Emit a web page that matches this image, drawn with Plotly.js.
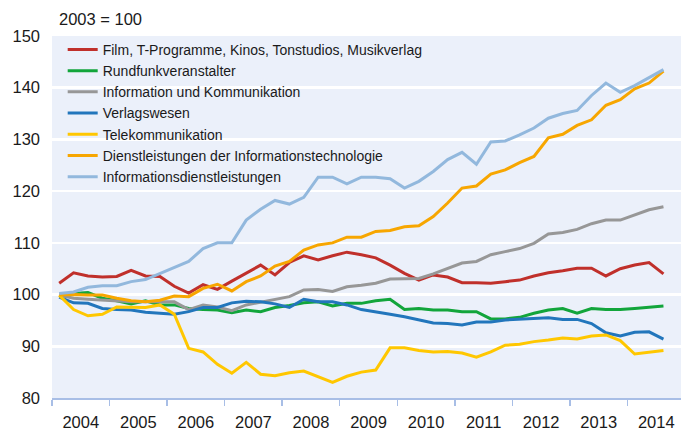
<!DOCTYPE html>
<html>
<head>
<meta charset="utf-8">
<script src="https://cdn.plot.ly/plotly-3.0.1.min.js"></script>
<style>html,body{margin:0;padding:0;background:#fff;}#chart{width:681px;height:432px;}</style>
</head>
<body>
<div id="chart"></div>
<script>
// Quarterly index values, 2004 Q1 .. 2014 Q3 (2003 = 100)
const quarters = [];
for (let y = 2004; y <= 2014; y++) for (let q = 1; q <= 4; q++) if (!(y === 2014 && q === 4)) quarters.push(y + ' Q' + q);

const yearLabels = ['2004','2005','2006','2007','2008','2009','2010','2011','2012','2013','2014'];

const seriesNames = [
  'Film, T-Programme, Kinos, Tonstudios, Musikverlag',
  'Rundfunkveranstalter',
  'Information und Kommunikation',
  'Verlagswesen',
  'Telekommunikation',
  'Dienstleistungen der Informationstechnologie',
  'Informationsdienstleistungen'
];

const film = [102.2,104.2,103.6,103.4,103.5,104.7,103.6,103.5,101.6,100.3,101.9,101.0,102.6,104.2,105.7,103.8,106.2,107.5,106.7,107.5,108.2,107.7,107.1,105.7,104.1,102.8,103.8,103.4,102.3,102.3,102.2,102.5,102.8,103.6,104.2,104.6,105.1,105.1,103.6,105.0,105.7,106.2,104.0];
const rundfunk = [99.8,100.2,100.4,99.3,98.8,98.2,98.8,98.0,98.0,97.3,97.1,97.0,96.5,97.0,96.7,97.5,97.9,98.4,98.6,97.8,98.3,98.3,98.8,99.1,97.1,97.3,97.0,97.0,96.7,96.7,95.3,95.3,95.6,96.4,97.0,97.3,96.4,97.3,97.1,97.1,97.3,97.6,97.8];
const infoKomm = [99.9,99.3,99.1,98.9,98.7,98.6,98.6,98.6,98.6,97.1,98.0,97.6,96.9,98.0,98.5,99.0,99.6,100.9,101.0,100.6,101.5,101.8,102.2,103.0,103.0,103.1,104.0,105.0,106.1,106.4,107.7,108.3,108.9,109.9,111.7,112.0,112.6,113.7,114.4,114.4,115.4,116.4,117.0];
const verlag = [99.5,98.4,98.3,97.3,97.1,97.0,96.6,96.4,96.2,96.7,97.5,97.5,98.4,98.7,98.6,98.2,97.5,99.1,98.6,98.6,98.0,97.1,96.7,96.2,95.7,95.1,94.5,94.4,94.1,94.7,94.7,95.1,95.2,95.4,95.5,95.2,95.2,94.4,92.6,92.0,92.7,92.8,91.4];
const telekom = [99.9,97.1,95.9,96.2,97.6,97.5,97.5,98.0,96.2,89.6,88.9,86.5,84.8,86.9,84.6,84.3,84.9,85.2,84.1,83.0,84.2,85.0,85.4,89.7,89.7,89.2,88.9,89.0,88.7,87.9,88.9,90.2,90.4,90.9,91.2,91.6,91.4,92.0,92.2,91.1,88.5,88.9,89.2];
const itDienst = [99.9,100.0,99.9,99.9,99.3,98.8,98.6,98.9,99.7,99.6,101.2,102.0,100.7,102.5,103.6,105.5,106.4,108.6,109.6,110.0,111.1,111.1,112.2,112.4,113.1,113.3,115.1,117.7,120.6,121.0,123.3,124.1,125.5,126.7,130.3,131.0,132.7,133.8,136.6,137.7,139.8,140.9,143.2];
const infoDienst = [100.2,100.5,101.4,101.7,101.7,102.5,102.9,104.1,105.2,106.4,108.9,110.0,110.0,114.4,116.5,118.2,117.5,118.8,122.7,122.7,121.4,122.7,122.7,122.4,120.6,121.9,123.8,126.1,127.5,125.2,129.5,129.7,130.9,132.2,134.1,135.0,135.6,138.5,140.9,139.1,140.4,141.9,143.5];

const seriesValues = [film, rundfunk, infoKomm, verlag, telekom, itDienst, infoDienst];
const seriesColors = ['#C0302B','#12A53B','#979797','#2276BC','#FFC700','#F7A600','#92B8DD'];

// numeric quarter position: year + (quarter - 0.5) / 4
const xPos = quarters.map(s => {
  const [yy, qq] = s.split(' Q');
  return Number(yy) + (Number(qq) - 0.5) / 4;
});
const yearNums = yearLabels.map(Number);

const traces = seriesValues.map((vals, k) => ({
  type: 'scatter', mode: 'lines',
  x: xPos, y: vals, name: seriesNames[k],
  line: { color: seriesColors[k], width: 3 },
  hoverinfo: 'skip'
}));

const bg = '#EBF0FA';
const axisBlue = '#A8BEE6';

const layout = {
  width: 681, height: 432,
  margin: { l: 52, r: 0, t: 36, b: 34 },
  paper_bgcolor: '#ffffff',
  plot_bgcolor: bg,
  font: { family: 'Liberation Sans, Arial, sans-serif', size: 16, color: '#1a1a1a' },
  showlegend: true,
  legend: {
    x: 0.017, y: 1.006, xanchor: 'left', yanchor: 'top',
    bgcolor: 'rgba(0,0,0,0)', borderwidth: 0,
    font: { size: 14, color: '#1a1a1a' },
    traceorder: 'normal', itemclick: false
  },
  // legend area hides the gridlines behind it (drawn between grid and traces)
  shapes: [{
    type: 'rect', xref: 'paper', yref: 'paper', layer: 'between',
    x0: 0.0175, x1: 0.644, y0: 0.64, y1: 0.93,
    fillcolor: bg, line: { width: 0 }
  }],
  xaxis: {
    range: [2004, 2014.93],
    tickmode: 'array',
    tickvals: yearNums.map(v => v + 0.5),
    ticktext: yearLabels,
    ticks: '',
    ticklabelstandoff: 9,
    tickfont: { size: 16.5, color: '#1a1a1a' },
    minor: { tickmode: 'array', tickvals: yearNums, ticks: 'outside', ticklen: 6, tickwidth: 1.5, tickcolor: axisBlue, showgrid: false },
    showgrid: false, zeroline: false,
    showline: true, linecolor: axisBlue, linewidth: 1.5,
    fixedrange: true
  },
  yaxis: {
    range: [80, 150],
    tickmode: 'array',
    tickvals: [80, 90, 100, 110, 120, 130, 140, 150],
    ticks: '',
    ticklabelstandoff: 11,
    tickfont: { size: 16.5, color: '#1a1a1a' },
    showgrid: true, gridcolor: '#ffffff', gridwidth: 2.5,
    zeroline: false, showline: false,
    fixedrange: true
  },
  annotations: [{
    text: '2003 = 100', xref: 'paper', yref: 'paper',
    x: 0.0085, y: 1.046, xanchor: 'left', yanchor: 'middle',
    showarrow: false, font: { size: 16.5, color: '#1a1a1a' }
  }]
};

Plotly.newPlot('chart', traces, layout, { staticPlot: true, displayModeBar: false });
</script>
</body>
</html>
